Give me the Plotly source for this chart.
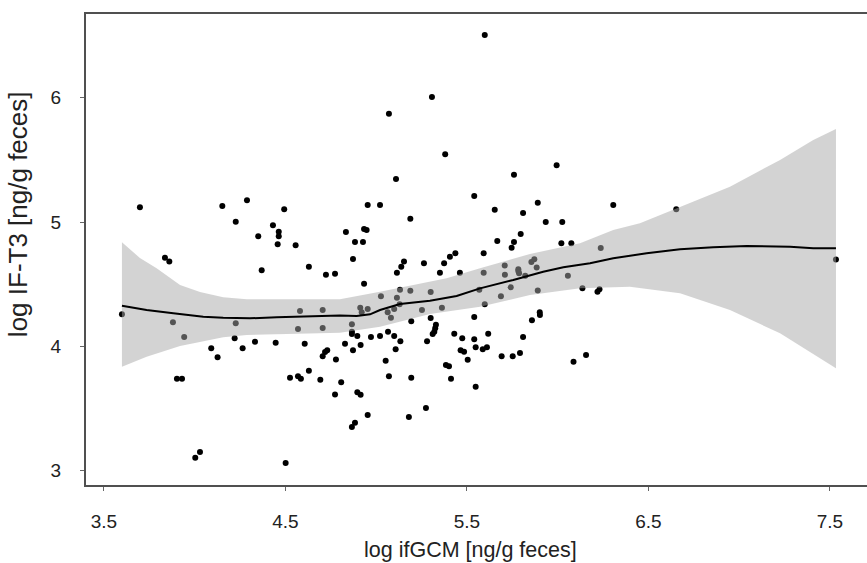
import plotly.graph_objects as go

# Scatter data: log ifGCM (x) vs log IF-T3 (y)
x_gcm = [3.698, 4.152, 4.288, 4.493, 4.226, 4.431, 4.463, 4.463, 4.350, 4.457,
         4.556, 3.836, 3.860, 4.629, 4.369, 5.598, 5.307, 5.070, 5.380, 5.109,
         5.994, 5.759, 5.540, 4.953, 5.021, 5.653, 5.890, 5.809, 5.188, 5.934,
         6.025, 4.833, 4.933, 4.947, 4.883, 4.927, 5.796, 5.667, 5.759, 5.746,
         6.020, 6.075, 4.872, 5.153, 5.138, 5.263, 5.374, 5.406, 5.436, 5.592,
         5.708, 5.855, 5.871, 5.783, 5.884, 6.306, 6.653, 6.237, 7.533, 4.723,
         4.773, 3.599, 3.880, 3.942, 4.226, 4.220, 4.091, 4.126, 4.264, 4.332,
         4.446, 4.580, 4.569, 4.705, 4.705, 4.606, 4.705, 4.718, 4.730, 4.778,
         3.902, 3.930, 4.525, 4.569, 4.585, 4.629, 4.692, 4.773, 4.807, 4.029,
         4.003, 4.501, 5.114, 5.351, 5.461, 5.592, 5.709, 5.783, 5.787, 5.821,
         6.056, 6.136, 5.890, 5.687, 5.741, 5.568, 5.598, 4.933, 5.026, 5.131,
         5.188, 5.300, 5.114, 5.129, 5.099, 5.063, 5.081, 4.912, 4.953, 4.920,
         5.252, 5.362, 5.300, 5.193, 5.540, 4.866, 4.866, 4.866, 4.896, 4.828,
         4.914, 4.872, 4.971, 5.021, 5.065, 5.099, 5.133, 5.107, 5.329, 5.325,
         5.320, 5.311, 5.280, 5.430, 5.474, 5.540, 5.617, 5.548, 5.587, 5.610,
         5.465, 5.484, 5.504, 5.809, 5.858, 5.901, 5.902, 5.691, 5.752, 5.792,
         6.087, 6.156, 5.052, 5.384, 5.401, 5.412, 5.070, 5.193, 4.896, 4.914,
         5.548, 4.953, 5.180, 5.274, 4.883, 4.866, 6.219, 6.230]
y_t3 = [5.119, 5.130, 5.175, 5.103, 5.003, 4.974, 4.923, 4.886, 4.886, 4.821,
        4.813, 4.714, 4.683, 4.641, 4.612, 6.505, 6.006, 5.872, 5.545, 5.347,
        5.457, 5.381, 5.210, 5.138, 5.138, 5.100, 5.156, 5.073, 5.027, 5.001,
        5.001, 4.920, 4.944, 4.936, 4.840, 4.840, 4.904, 4.848, 4.840, 4.794,
        4.829, 4.829, 4.703, 4.683, 4.641, 4.669, 4.669, 4.722, 4.749, 4.749,
        4.651, 4.679, 4.702, 4.620, 4.635, 5.138, 5.103, 4.792, 4.699, 4.577,
        4.585, 4.258, 4.194, 4.076, 4.186, 4.065, 3.985, 3.912, 3.985, 4.038,
        4.030, 4.285, 4.140, 4.293, 4.148, 4.022, 3.920, 3.955, 3.969, 3.895,
        3.740, 3.740, 3.748, 3.759, 3.740, 3.805, 3.732, 3.613, 3.711, 3.150,
        3.105, 3.062, 4.593, 4.593, 4.593, 4.593, 4.577, 4.607, 4.588, 4.569,
        4.569, 4.467, 4.450, 4.403, 4.475, 4.456, 4.339, 4.504, 4.403, 4.456,
        4.448, 4.438, 4.392, 4.339, 4.301, 4.274, 4.231, 4.311, 4.301, 4.274,
        4.293, 4.311, 4.228, 4.202, 4.237, 4.178, 4.118, 4.100, 4.084, 4.022,
        4.011, 3.969, 4.076, 4.084, 4.118, 4.084, 4.041, 3.977, 4.175, 4.146,
        4.118, 4.100, 4.041, 4.102, 4.065, 4.057, 4.102, 3.993, 3.977, 3.993,
        3.969, 3.957, 3.893, 4.076, 4.210, 4.274, 4.253, 3.920, 3.920, 3.947,
        3.877, 3.931, 3.885, 3.850, 3.840, 3.740, 3.759, 3.748, 3.631, 3.611,
        3.676, 3.448, 3.432, 3.504, 3.386, 3.352, 4.440, 4.459]

# Smoothed fit line
fit_x = [3.599, 3.735, 3.882, 4.047, 4.157, 4.304, 4.452, 4.653, 4.800, 4.892,
         4.966, 5.021, 5.131, 5.296, 5.443, 5.572, 5.755, 5.920, 6.031, 6.178,
         6.306, 6.490, 6.674, 6.857, 7.041, 7.280, 7.408, 7.533]
fit_y = [4.327, 4.293, 4.266, 4.239, 4.231, 4.226, 4.234, 4.245, 4.249, 4.245,
         4.258, 4.293, 4.341, 4.368, 4.405, 4.467, 4.534, 4.601, 4.636, 4.669,
         4.709, 4.749, 4.781, 4.797, 4.808, 4.802, 4.789, 4.789]

# Confidence band
upper_x = [3.599, 3.698, 3.790, 3.919, 4.029, 4.157, 4.286, 4.800, 5.021, 5.204,
           5.388, 5.572, 5.737, 5.847, 6.123, 6.306, 6.453, 6.674, 6.949, 7.225,
           7.408, 7.533]
upper_y = [4.838, 4.711, 4.628, 4.494, 4.438, 4.395, 4.379, 4.379, 4.440, 4.494,
           4.548, 4.628, 4.695, 4.743, 4.829, 4.936, 4.990, 5.124, 5.285, 5.500,
           5.660, 5.749]
lower_x = [3.599, 3.735, 3.919, 4.157, 4.286, 4.800, 5.021, 5.296, 5.572, 5.847,
           6.123, 6.398, 6.674, 6.949, 7.225, 7.533]
lower_y = [3.837, 3.917, 4.003, 4.073, 4.092, 4.110, 4.158, 4.261, 4.319, 4.413,
           4.467, 4.480, 4.427, 4.293, 4.105, 3.824]

x_ticks = [3.5, 4.5, 5.5, 6.5, 7.5]
x_tick_labels = ["3.5", "4.5", "5.5", "6.5", "7.5"]
y_ticks = [3, 4, 5, 6]
y_tick_labels = ["3", "4", "5", "6"]
x_title = "log ifGCM [ng/g feces]"
y_title = "log IF-T3 [ng/g feces]"

font_family = "Liberation Sans, Arial, sans-serif"
text_color = "#222"

fig = go.Figure()
fig.add_trace(go.Scatter(x=x_gcm, y=y_t3, mode="markers",
                         marker=dict(color="black", size=6),
                         hoverinfo="x+y"))
band_x = upper_x + lower_x[::-1]
band_y = upper_y + lower_y[::-1]
fig.add_trace(go.Scatter(x=band_x, y=band_y, mode="lines", fill="toself",
                         fillcolor="rgba(167,167,167,0.5)",
                         line=dict(width=0), hoverinfo="skip"))
fig.add_trace(go.Scatter(x=fit_x, y=fit_y, mode="lines",
                         line=dict(color="black", width=2), hoverinfo="skip"))

axis_common = dict(showgrid=False, zeroline=False, showline=True,
                   linecolor="#505050", linewidth=2, ticks="outside",
                   ticklen=4, tickwidth=1, tickcolor="#666", automargin=False,
                   tickfont=dict(family=font_family, size=19, color=text_color))

fig.update_layout(
    width=867, height=563,
    margin=dict(l=86, r=0, t=14, b=78, autoexpand=False),
    paper_bgcolor="white", plot_bgcolor="white",
    showlegend=False,
    font=dict(family=font_family, color=text_color),
    xaxis=dict(range=[3.401, 7.704], tickvals=x_ticks, ticktext=x_tick_labels,
               mirror=True, ticklabelstandoff=14, **axis_common),
    yaxis=dict(range=[2.885, 6.674], tickvals=y_ticks, ticktext=y_tick_labels,
               mirror=False, ticklabelstandoff=15, **axis_common),
    annotations=[
        dict(text=x_title, xref="paper", yref="paper", x=0.4917, y=-0.138,
             xanchor="center", yanchor="middle", showarrow=False,
             font=dict(family=font_family, size=21.5, color=text_color)),
        dict(text=y_title, xref="paper", yref="paper", x=-0.0871, y=0.575,
             xanchor="center", yanchor="middle", showarrow=False, textangle=-90,
             font=dict(family=font_family, size=26, color=text_color)),
    ],
)

fig.write_html("out.html", config={"displayModeBar": False},
               post_script="document.body.style.margin='0px';"
                           "document.documentElement.style.overflow='hidden';")
